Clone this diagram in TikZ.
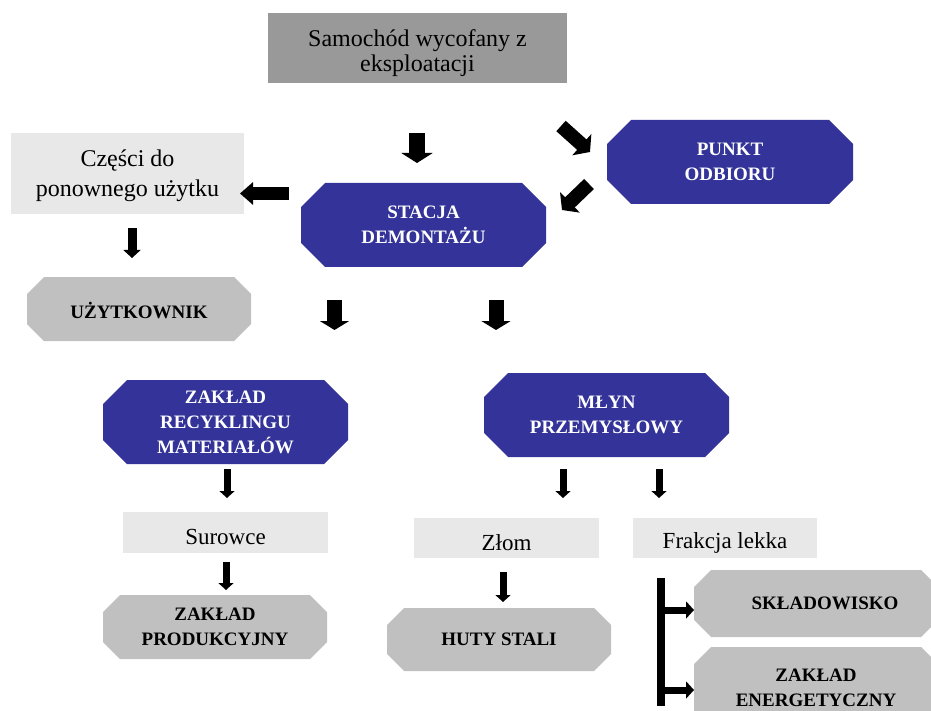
\documentclass[tikz,border=0pt]{standalone}
\usepackage{fontspec}
\setmainfont{Liberation Serif}
\usetikzlibrary{arrows.meta}
\definecolor{dblue}{HTML}{333399}
\definecolor{ogray}{HTML}{C0C0C0}
\definecolor{lgray}{HTML}{E8E8E8}
\definecolor{tgray}{HTML}{999999}
\newcommand\nodebf{\fontsize{19}{25}\selectfont\bfseries}
\newcommand\nodert{\fontsize{23}{26}\selectfont}
\tikzset{
  oct/.style 2 args={inner sep=0pt, align=center,
    path picture={
      \path (path picture bounding box.south west) coordinate (o-sw)
            (path picture bounding box.north east) coordinate (o-ne);
      \fill[#1] ([xshift=#2]o-sw) -- ([xshift=-#2]o-sw -| o-ne) -- ([yshift=#2]o-sw -| o-ne)
        -- ([yshift=-#2]o-ne) -- ([xshift=-#2]o-ne) -- ([xshift=#2]o-ne -| o-sw)
        -- ([yshift=-#2]o-ne -| o-sw) -- ([yshift=#2]o-sw) -- cycle;}},
  blueoct/.style={oct={dblue}{24pt}, text=white, font=\nodebf},
  grayoct/.style={oct={ogray}{17pt}, text=black, font=\nodebf},
  lbox/.style={fill=lgray, inner sep=0pt, align=center, font=\nodert},
  barrow/.style={line width=16pt, -{Triangle[width=31pt,length=10pt]}},
  marrow/.style={line width=15pt, -{Triangle[width=29pt,length=9pt]}},
  sarrow/.style={line width=7pt, -{Triangle[width=15pt,length=7pt]}},
}
\begin{document}
\begin{tikzpicture}[x=1pt,y=-1pt]
\useasboundingbox (0,0) rectangle (931,711);
% nodes
\node[fill=tgray, inner sep=0pt, align=center, minimum width=299pt, minimum height=70pt,
      font=\fontsize{24}{25}\selectfont] (car) at (417.5,48) {\rule{0pt}{27pt}Samochód wycofany z\\eksploatacji};
\node[blueoct, minimum width=246pt, minimum height=84pt] (punkt) at (730,162) {PUNKT\\ODBIORU};
\node[blueoct, minimum width=245pt, minimum height=84pt] (stacja) at (423.5,225) {STACJA\\DEMONTAŻU};
\node[lbox, minimum width=233pt, minimum height=81pt, font=\fontsize{24}{30}\selectfont] (czesci) at (127.5,173.5) {\rule{0pt}{22pt}Części do\\ponownego użytku};
\node[grayoct, minimum width=224pt, minimum height=64pt] (uzyt) at (139,309) {\rule{0pt}{19pt}UŻYTKOWNIK};
\node[blueoct, minimum width=245pt, minimum height=84pt] (recykl) at (225.5,422) {ZAKŁAD\\RECYKLINGU\\MATERIAŁÓW};
\node[blueoct, minimum width=245pt, minimum height=84pt] (mlyn) at (606.5,415) {MŁYN\\PRZEMYSŁOWY};
\node[lbox, minimum width=205pt, minimum height=41pt] (surowce) at (225.5,532.5) {\rule{0pt}{24pt}Surowce};
\node[lbox, minimum width=185pt, minimum height=40pt] (zlom) at (506.5,538) {\rule{0pt}{25pt}Złom};
\node[lbox, minimum width=184pt, minimum height=40pt] (frakcja) at (725,538) {\rule{0pt}{25pt}Frakcja lekka};
\node[grayoct, minimum width=224pt, minimum height=64pt] (prod) at (215,627) {ZAKŁAD\\PRODUKCYJNY};
\node[grayoct, minimum width=224pt, minimum height=63pt] (huty) at (499,639.5) {HUTY STALI};
\node[grayoct, minimum width=244pt, minimum height=67pt] (sklad) at (816,603.5) {\hspace*{18pt}SKŁADOWISKO};
\node[grayoct, minimum width=244pt, minimum height=82pt] (energ) at (816,688) {ZAKŁAD\\ENERGETYCZNY};
% arrows
\draw[barrow] (417,133) -- (417,163);
\draw[line width=14pt, -{Triangle[width=28pt,length=11pt]}] (561,126) -- (590,152);
\draw[line width=14pt, -{Triangle[width=28pt,length=11pt]}] (589,184) -- (562,210);
\draw[line width=13pt, -{Triangle[width=22pt,length=13pt]}] (289,193.5) -- (240,193.5);
\draw[line width=9pt, -{Triangle[width=17pt,length=8pt]}] (132,228) -- (132,258);
\draw[marrow] (334.5,300) -- (334.5,330);
\draw[marrow] (496,300) -- (496,330);
\draw[sarrow] (227,469) -- (227,498);
\draw[sarrow] (563,469) -- (563,498);
\draw[sarrow] (659,469) -- (659,498);
\draw[sarrow] (226,562) -- (226,590);
\draw[sarrow] (503,572) -- (503,602);
% bracket
\draw[line width=8pt] (661,578) -- (661,706);
\draw[line width=7pt, -{Triangle[width=17pt,length=8pt]}] (661,610) -- (694,610);
\draw[line width=7pt, -{Triangle[width=17pt,length=8pt]}] (661,690) -- (694,690);
\end{tikzpicture}
\end{document}
